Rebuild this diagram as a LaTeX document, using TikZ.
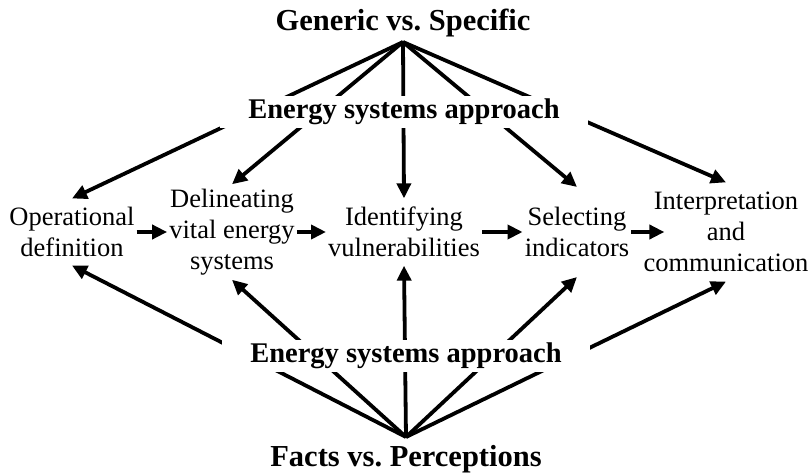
\documentclass[tikz,border=0pt]{standalone}
\usepackage{fontspec}
\setmainfont{Liberation Serif}
\usetikzlibrary{arrows.meta}
\frenchspacing
\begin{document}
\begin{tikzpicture}[x=1pt,y=1pt,
  box/.style={align=center, font=\fontsize{26.5}{31}\selectfont, inner xsep=2pt},
  title/.style={font=\fontsize{30.5}{36}\selectfont\bfseries, inner xsep=0pt},
  esa/.style={font=\fontsize{28.5}{34}\selectfont\bfseries, fill=white, inner xsep=28pt, inner ysep=3pt},
  arr/.style={line width=3.8pt, -{Triangle[length=15pt,width=14pt]}}
]
\useasboundingbox (0,0) rectangle (812,-476);
% middle row
\node[box, inner ysep=8.5pt] (op) at (72,-232) {Operational\\definition};
\node[box, inner ysep=4.5pt] (del) at (232,-232) {Delineating\\vital energy\\systems};
\node[box, inner ysep=8.5pt] (ide) at (404,-232) {Identifying\\vulnerabilities};
\node[box, inner ysep=20pt] (sel) at (577,-232) {Selecting\\indicators};
\node[box, inner ysep=9.5pt] (int) at (726,-232) {Interpretation\\and\\communication};
% titles
\node[title, anchor=south, inner ysep=4.5pt] (gen) at (403,-42) {Generic vs.\ Specific};
\node[title, anchor=north, inner ysep=8pt] (fac) at (406,-437) {Facts vs.\ Perceptions};
% fans
\foreach \n in {op,del,ide,sel,int}{
  \draw[arr] (gen.south) -- (\n.north);
  \draw[arr] (fac.north) -- (\n.south);
}
% horizontal flow
\draw[arr] (op.east) -- (del.west);
\draw[arr] (del.east) -- (ide.west);
\draw[arr] (ide.east) -- (sel.west);
\draw[arr] (sel.east) -- ([xshift=23pt]int.west);
% overlay labels
\node[esa] (esat) at (404,-112) {Energy systems approach};
\node[esa] (esab) at (406,-356) {Energy systems approach};
\end{tikzpicture}
\end{document}
